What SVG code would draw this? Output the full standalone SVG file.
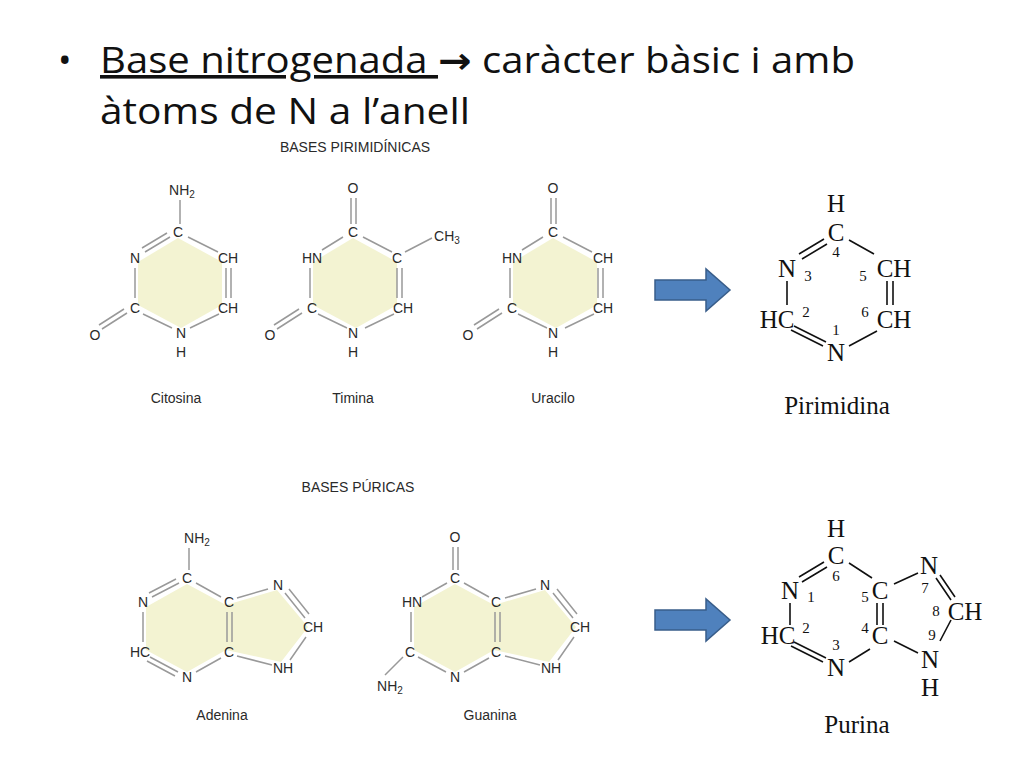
<svg xmlns="http://www.w3.org/2000/svg" width="1024" height="768" viewBox="0 0 1024 768">
<style>
.t{font-family:"Liberation Sans",Arial,sans-serif;font-size:14px;fill:#2a2a2a;text-anchor:middle;dominant-baseline:central}
.s{font-size:10px}
.b{stroke:#999;stroke-width:1.5;fill:none}
.r{fill:#f3f3d2}
.k{stroke:#111;stroke-width:1.6;fill:none}
.f{font-family:"Liberation Serif","Times New Roman",serif;font-size:25px;fill:#111;text-anchor:middle;dominant-baseline:central}
.n{font-size:15px}
.h{font-family:"Open Sans","Liberation Sans",sans-serif;font-size:36px;fill:#111}
.arrow{fill:#4f81bd;stroke:#385d8a;stroke-width:1.5}
</style>
<rect width="1024" height="768" fill="#fff"/>
<g id="title">
<text class="h" x="58" y="73">•</text>
<text class="h" x="100" y="73" textLength="755" lengthAdjust="spacingAndGlyphs"><tspan text-decoration="underline">Base nitrogenada </tspan><tspan font-family="DejaVu Sans" font-weight="bold">→</tspan> caràcter bàsic i amb</text>
<text class="h" x="100" y="124" textLength="370" lengthAdjust="spacingAndGlyphs">àtoms de  N a l’anell</text>
</g>
<text class="t" x="355" y="147" font-size="12.5">BASES PIRIMIDÍNICAS</text>
<text class="t" x="358" y="487" font-size="12.5">BASES PÚRICAS</text>

<g id="citosina">
<polygon class="r" points="178,238 222,262 222,305 181,328 138,305 138,262"/>
<path class="b" d="M180,200V224 M170,237L145,252 M167,233L142,248 M188,237L218,252 M135,268V298 M226,268V298 M231,268V298 M143,314L172,328 M219,314L190,328 M127,313L102,329 M124,309L99,325"/>
<text class="t" x="182" y="190">NH<tspan class="s" dy="4">2</tspan></text>
<text class="t" x="178" y="232">C</text><text class="t" x="135" y="258">N</text><text class="t" x="228" y="258">CH</text>
<text class="t" x="135" y="308">C</text><text class="t" x="228" y="308">CH</text><text class="t" x="181" y="333">N</text><text class="t" x="181" y="352">H</text>
<text class="t" x="95" y="335">O</text><text class="t" x="176" y="398">Citosina</text>
</g>
<g id="timina">
<polygon class="r" points="353,238 397,262 397,305 356,328 313,305 313,262"/>
<path class="b" d="M351,198V224 M356,198V224 M363,237L392,252 M343,237L322,250 M310,268V298 M397,268V298 M402,268V298 M318,314L347,328 M394,314L365,328 M302,313L277,329 M299,309L274,325 M405,252L432,238"/>
<text class="t" x="353" y="188">O</text><text class="t" x="353" y="232">C</text><text class="t" x="312" y="258">HN</text>
<text class="t" x="397" y="258">C</text><text class="t" x="447" y="236">CH<tspan class="s" dy="4">3</tspan></text>
<text class="t" x="312" y="308">C</text><text class="t" x="403" y="308">CH</text><text class="t" x="353" y="333">N</text><text class="t" x="353" y="352">H</text>
<text class="t" x="270" y="335">O</text><text class="t" x="353" y="398">Timina</text>
</g>
<g id="uracilo">
<polygon class="r" points="553,238 597,262 597,305 556,328 513,305 513,262"/>
<path class="b" d="M551,198V224 M556,198V224 M563,237L592,252 M543,237L522,250 M510,268V298 M598,268V298 M603,268V298 M518,314L547,328 M594,314L565,328 M502,313L477,329 M499,309L474,325"/>
<text class="t" x="553" y="188">O</text><text class="t" x="553" y="232">C</text><text class="t" x="512" y="258">HN</text>
<text class="t" x="603" y="258">CH</text>
<text class="t" x="512" y="308">C</text><text class="t" x="603" y="308">CH</text><text class="t" x="553" y="333">N</text><text class="t" x="553" y="352">H</text>
<text class="t" x="468" y="335">O</text><text class="t" x="553" y="398">Uracilo</text>
</g>

<g id="adenina">
<polygon class="r" points="187,584 226,605 277,590 308,627 281,662 226,650 187,672 146,650 146,607"/>
<path class="b" d="M189,548V570 M179,583L152,597 M176,579L149,593 M196,583L221,597 M143,612V642 M150,657L178,672 M147,661L175,676 M196,672L221,658 M227,612V642 M232,612V642 M237,598L268,589 M285,593L305,618 M289,589L309,614 M306,637L290,660 M237,656L272,665"/>
<text class="t" x="197" y="538">NH<tspan class="s" dy="4">2</tspan></text>
<text class="t" x="187" y="578">C</text><text class="t" x="143" y="602">N</text><text class="t" x="229" y="602">C</text>
<text class="t" x="278" y="585">N</text><text class="t" x="313" y="627">CH</text><text class="t" x="140" y="652">HC</text>
<text class="t" x="229" y="652">C</text><text class="t" x="283" y="668">NH</text><text class="t" x="187" y="677">N</text>
<text class="t" x="222" y="715">Adenina</text>
</g>
<g id="guanina">
<polygon class="r" points="455,584 494,605 545,590 576,627 549,662 494,650 455,672 414,650 414,607"/>
<path class="b" d="M453,547V570 M458,547V570 M447,583L422,597 M464,583L489,597 M411,612V642 M418,657L446,672 M464,672L489,658 M495,612V642 M500,612V642 M505,598L536,589 M553,593L573,618 M557,589L577,614 M574,637L558,660 M505,656L540,665 M403,657L385,675"/>
<text class="t" x="455" y="537">O</text>
<text class="t" x="455" y="578">C</text><text class="t" x="412" y="602">HN</text><text class="t" x="496" y="602">C</text>
<text class="t" x="545" y="585">N</text><text class="t" x="580" y="627">CH</text><text class="t" x="410" y="652">C</text>
<text class="t" x="496" y="652">C</text><text class="t" x="551" y="668">NH</text><text class="t" x="455" y="677">N</text>
<text class="t" x="390" y="686">NH<tspan class="s" dy="4">2</tspan></text>
<text class="t" x="490" y="715">Guanina</text>
</g>

<g id="arrows">
<path class="arrow" d="M655,280H706V269L730,290L706,311V300H655Z"/>
<path class="arrow" d="M655,610H706V599L730,620L706,641V630H655Z"/>
</g>

<g id="pirimidina">
<path class="k" d="M824,239L799,254 M827,244L802,259 M849,240L874,254 M787,281V305 M887,281V305 M893,281V305 M791,330L823,346 M794,326L826,342 M849,346L877,331"/>
<text class="f" x="836" y="203">H</text><text class="f" x="836" y="232">C</text><text class="f n" x="836" y="252">4</text>
<text class="f" x="787" y="268">N</text><text class="f n" x="808" y="276">3</text><text class="f n" x="863" y="276">5</text>
<text class="f" x="894" y="268">CH</text><text class="f" x="777" y="319">HC</text><text class="f n" x="806" y="312">2</text>
<text class="f n" x="865" y="312">6</text><text class="f" x="894" y="319">CH</text><text class="f n" x="836" y="330">1</text>
<text class="f" x="836" y="352">N</text>
<text class="f" x="837" y="405" font-size="22">Pirimidina</text>
</g>
<g id="purina">
<path class="k" d="M824,562L799,577 M827,567L802,582 M849,563L872,578 M790,603V625 M877,603V625 M883,603V625 M791,646L823,662 M794,642L826,658 M849,662L870,649 M894,584L918,573 M936,578L951,600 M940,575L955,597 M951,620L940,641 M894,641L918,653"/>
<text class="f" x="836" y="528">H</text><text class="f" x="836" y="555">C</text><text class="f n" x="836" y="576">6</text>
<text class="f" x="790" y="590">N</text><text class="f n" x="811" y="597">1</text><text class="f n" x="865" y="597">5</text>
<text class="f" x="880" y="590">C</text><text class="f" x="929" y="565">N</text><text class="f n" x="925" y="588">7</text>
<text class="f n" x="936" y="611">8</text><text class="f" x="965" y="611">CH</text><text class="f" x="778" y="635">HC</text>
<text class="f n" x="806" y="628">2</text><text class="f n" x="865" y="628">4</text><text class="f" x="880" y="635">C</text>
<text class="f n" x="932" y="635">9</text><text class="f n" x="836" y="645">3</text><text class="f" x="836" y="667">N</text>
<text class="f" x="930" y="659">N</text><text class="f" x="930" y="687">H</text>
<text class="f" x="857" y="724" font-size="22">Purina</text>
</g>
</svg>
